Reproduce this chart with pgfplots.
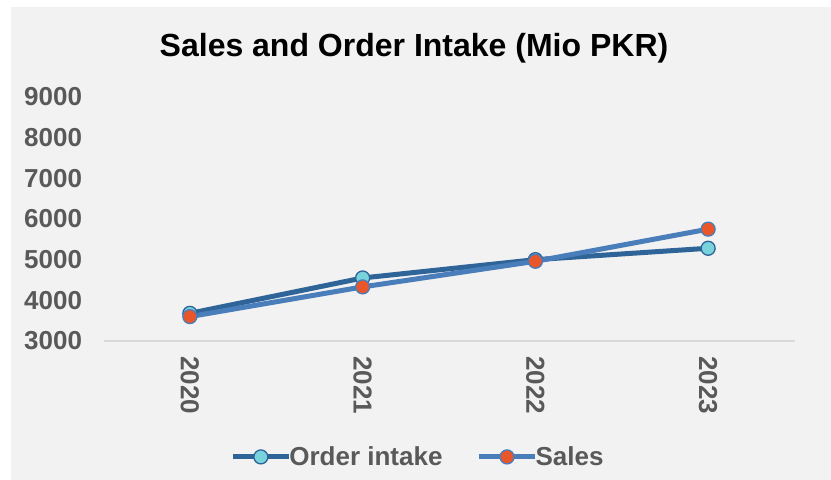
\documentclass[border=0pt]{standalone}
\usepackage{fontspec}
\setmainfont{Liberation Sans}
\usepackage{pgfplots}
\pgfplotsset{compat=1.18}
\definecolor{bg}{HTML}{F2F2F2}
\definecolor{txt}{HTML}{595959}
\definecolor{oline}{HTML}{2F6498}
\definecolor{sline}{HTML}{4A7EBB}
\definecolor{ofill}{HTML}{79D3DD}
\definecolor{sfill}{HTML}{E8562A}
\begin{document}
\begin{tikzpicture}[x=1bp,y=1bp]
\fill[white] (0,0) rectangle (831,480);
\fill[bg] (11,0) rectangle (831,473);
\node[anchor=base, font=\fontsize{32bp}{38bp}\selectfont\bfseries, text=black] at (414,423) {Sales and Order Intake (Mio PKR)};
\begin{axis}[
  at={(103.5bp,139bp)}, anchor=south west, scale only axis,
  width=691bp, height=244bp,
  xmin=-0.5, xmax=3.5, ymin=3000, ymax=9000,
  xtick={0,1,2,3}, xticklabels={2020,2021,2022,2023},
  ytick={3000,4000,...,9000},
  axis x line*=bottom, axis y line*=left,
  x axis line style={-, draw=black!15, line width=1.2bp},
  y axis line style={draw=none},
  major tick length=0pt,
  /pgf/number format/assume math mode=true,
  /pgf/number format/1000 sep={},
  tick label style={font=\fontsize{26bp}{30bp}\selectfont\bfseries, text=txt},
  yticklabel style={anchor=east, xshift=-18bp},
  xticklabel style={rotate=-90, anchor=west, xshift=12bp},
  legend style={at={(0.455,-0.475)}, anchor=center, draw=none, fill=none,
    font=\fontsize{26bp}{30bp}\selectfont\bfseries, text=txt,
    legend columns=2, /tikz/every even column/.append style={column sep=32bp},
    /tikz/every odd column/.append style={column sep=-4bp}},
  legend image code/.code={\draw[mark repeat=2,mark phase=2,#1] plot coordinates {(0bp,0bp)(28bp,0bp)(56bp,0bp)};},
]
\addplot[oline, line width=5bp, mark=*, mark size=7bp, mark options={fill=ofill, draw=oline, line width=1.3bp}]
  coordinates {(0,3680) (1,4550) (2,5000) (3,5280)};
\addlegendentry{Order intake}
\addplot[sline, line width=5bp, mark=*, mark size=7bp, mark options={fill=sfill, draw=sline, line width=1.3bp}]
  coordinates {(0,3600) (1,4330) (2,4960) (3,5750)};
\addlegendentry{Sales}
\end{axis}
\end{tikzpicture}
\end{document}
